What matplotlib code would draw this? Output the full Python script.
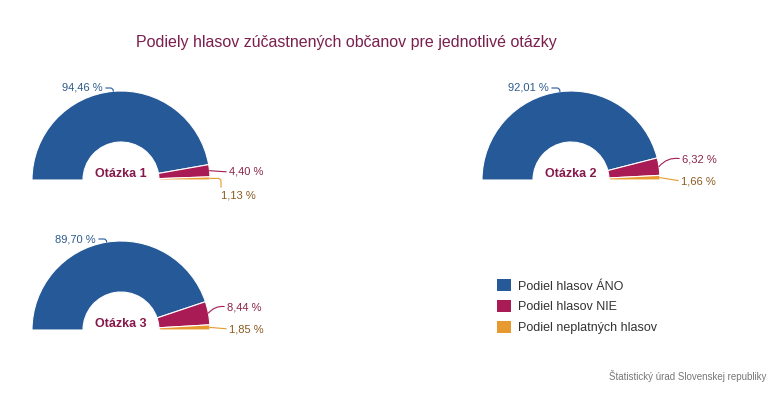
import matplotlib.pyplot as plt
import numpy as np

# --- data ---
questions = ['Otázka 1', 'Otázka 2', 'Otázka 3']
ano = [94.46, 92.01, 89.70]
nie = [4.40, 6.32, 8.44]
neplatne = [1.13, 1.66, 1.85]
series_names = ['Podiel hlasov ÁNO', 'Podiel hlasov NIE', 'Podiel neplatných hlasov']

colors = ['#255997', '#a81b55', '#e69a30']
label_colors = ['#2d5b8b', '#8c2448', '#8a5a20']
title_color = '#7a1f4e'

plt.rcParams['font.family'] = ['Liberation Sans', 'DejaVu Sans']

W, H = 783, 403
fig = plt.figure(figsize=(W / 100, H / 100), dpi=100)
ax = fig.add_axes([0, 0, 1, 1])

# pixel positions (from top-left) of each half-donut centre and labels
centers = [(121, 180), (571, 180), (121, 330)]
R = 89
ring = 51
label_pos = [
    [(103, 88), (229, 172), (221, 195)],
    [(549, 88), (682, 159), (681, 181)],
    [(96, 239), (227, 307), (229, 329)],
]
conn = [
    ['angle,angleA=0,angleB=90,rad=3', 'arc3', 'angle,angleA=90,angleB=0,rad=3'],
    ['angle,angleA=0,angleB=90,rad=3', 'arc3,rad=0.3', 'arc3'],
    ['angle,angleA=0,angleB=90,rad=3', 'arc3,rad=0.3', 'arc3'],
]

legend_handles = None
for i in range(3):
    vals = [ano[i], nie[i], neplatne[i]]
    cx, cy = centers[i]
    wedges, _ = ax.pie(vals + [100], center=(cx, H - cy), radius=R,
                       startangle=180, counterclock=False,
                       colors=colors + ['none'],
                       wedgeprops=dict(width=ring, edgecolor='white', linewidth=0.8))
    wedges[3].set_edgecolor('none')
    if legend_handles is None:
        legend_handles = wedges[:3]
    ax.text(cx, H - cy + 6, questions[i], ha='center', va='center',
            fontsize=9, fontweight='bold', color='#86194b')
    for j, w in enumerate(wedges[:3]):
        mid = np.deg2rad((w.theta1 + w.theta2) / 2)
        px = cx + R * np.cos(mid)
        py = H - cy + R * np.sin(mid)
        tx, ty = label_pos[i][j]
        txt = f'{vals[j]:.2f} %'.replace('.', ',')
        ax.annotate(txt, xy=(px, py), xytext=(tx, H - ty),
                    ha='right' if j == 0 else 'left', va='center',
                    fontsize=8, color=label_colors[j],
                    arrowprops=dict(arrowstyle='-', color=colors[j], lw=0.8,
                                    shrinkA=0, shrinkB=0,
                                    connectionstyle=conn[i][j],
                                    relpos=(1, 0.5) if j == 0 else (0, 0.5)))

ax.set_xlim(0, W)
ax.set_ylim(0, H)
ax.set_aspect('equal')
ax.axis('off')

fig.text(346 / W, 1 - 43 / H, 'Podiely hlasov zúčastnených občanov pre jednotlivé otázky',
         ha='center', va='center', fontsize=11.5, color=title_color)

leg = ax.legend(legend_handles, series_names, loc='upper left',
                bbox_to_anchor=(486 / W, 1 - 268 / H), bbox_transform=fig.transFigure,
                frameon=False, fontsize=9, handlelength=1.1, handleheight=1.1,
                handletextpad=0.55, labelspacing=0.6, labelcolor='#333333')
for p in leg.get_patches():
    p.set_edgecolor('none')

fig.text(766 / W, 1 - 376 / H, 'Štatistický úrad Slovenskej republiky',
         ha='right', va='center', fontsize=7, color='#777777')

fig.savefig('out.png', dpi=100, facecolor='white')
